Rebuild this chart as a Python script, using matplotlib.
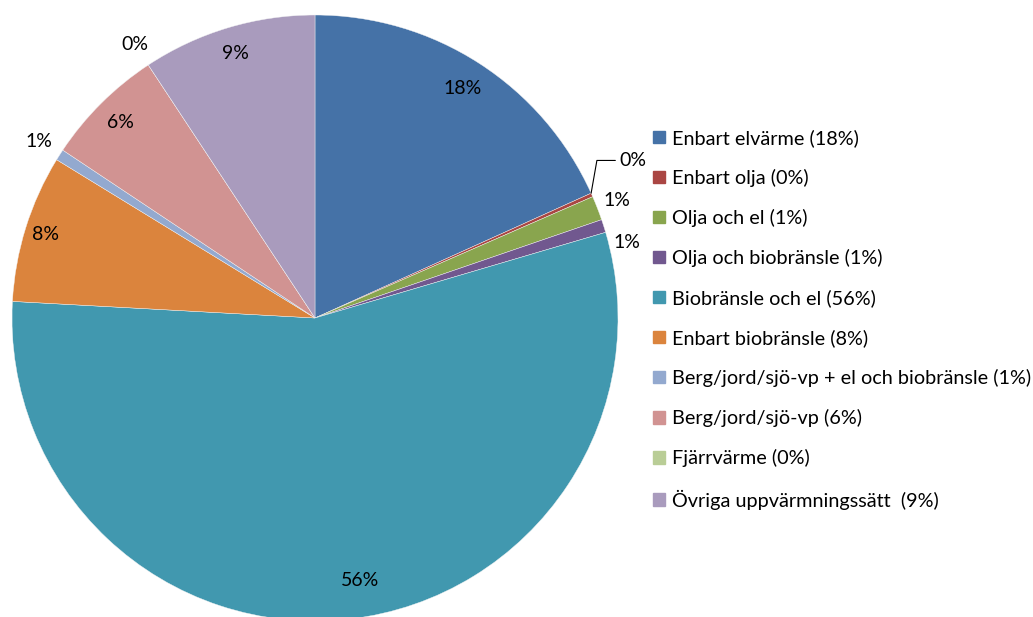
import numpy as np
import matplotlib.pyplot as plt

plt.rcParams['font.family'] = ['Lato', 'DejaVu Sans']

categories = ['Enbart elvärme', 'Enbart olja', 'Olja och el', 'Olja och biobränsle',
              'Biobränsle och el', 'Enbart biobränsle',
              'Berg/jord/sjö-vp + el och biobränsle', 'Berg/jord/sjö-vp',
              'Fjärrvärme', 'Övriga uppvärmningssätt ']
values = [18.3, 0.2, 1.3, 0.7, 55.6, 7.9, 0.6, 6.4, 0.0, 9.3]
colors = ['#4572A7', '#AA4643', '#89A54E', '#71588F', '#4198AF',
          '#DB843D', '#93A9CF', '#D19392', '#B9CD96', '#A99BBD']
# radial distance / angle tweak of each percentage label
label_dist = [0.90, 1.14, 1.07, 1.06, 0.88, 0.93, 1.08, 0.91, 1.08, 0.91]
label_dang = [0, 0, 0, -4, 3, 0, 0, 0, 0, 0]

W, H = 1033, 617
R = 303.0
cx, cy = 315, 318
fig = plt.figure(figsize=(W / 100, H / 100), dpi=100)
ax = fig.add_axes([0, 0, 1, 1])

wedges, _ = ax.pie(values, colors=colors, startangle=90, counterclock=False,
                   radius=1, center=(0, 0), frame=True,
                   wedgeprops=dict(linewidth=0.3, edgecolor='#f4f4f4'))
ax.set_xlim(-cx / R, (W - cx) / R)
ax.set_ylim(-(H - cy) / R, cy / R)
ax.set_aspect('auto')
ax.axis('off')

for i, (w, v) in enumerate(zip(wedges, values)):
    ang = np.deg2rad((w.theta1 + w.theta2) / 2 + label_dang[i])
    txt = f'{v:.0f}%'
    if i == 1:
        # leader line for the tiny slice
        a0 = np.deg2rad(w.theta2)
        ex, ey = np.cos(a0), np.sin(a0)
        tx, ty = 1.005, 0.52
        ax.annotate(txt, xy=(ex, ey), xytext=(tx, ty), ha='left', va='center',
                    fontsize=14,
                    arrowprops=dict(arrowstyle='-', color='black', lw=0.8,
                                    shrinkA=1, shrinkB=0,
                                    connectionstyle='angle,angleA=180,angleB=80,rad=0'))
        continue
    d = label_dist[i]
    ax.text(d * np.cos(ang), d * np.sin(ang), txt, ha='center', va='center',
            fontsize=14)

handles = [plt.Rectangle((0, 0), 1, 1, color=c) for c in colors]
labels = [f'{c} ({v:.0f}%)' for c, v in zip(categories, values)]
fig.legend(handles, labels, loc='upper left', bbox_to_anchor=(645 / W, 1 - 121 / H),
           frameon=False, fontsize=14.3, handlelength=0.6, handleheight=0.6,
           handletextpad=0.35, labelspacing=1.11, borderaxespad=0)

fig.savefig('out.png', dpi=100)
